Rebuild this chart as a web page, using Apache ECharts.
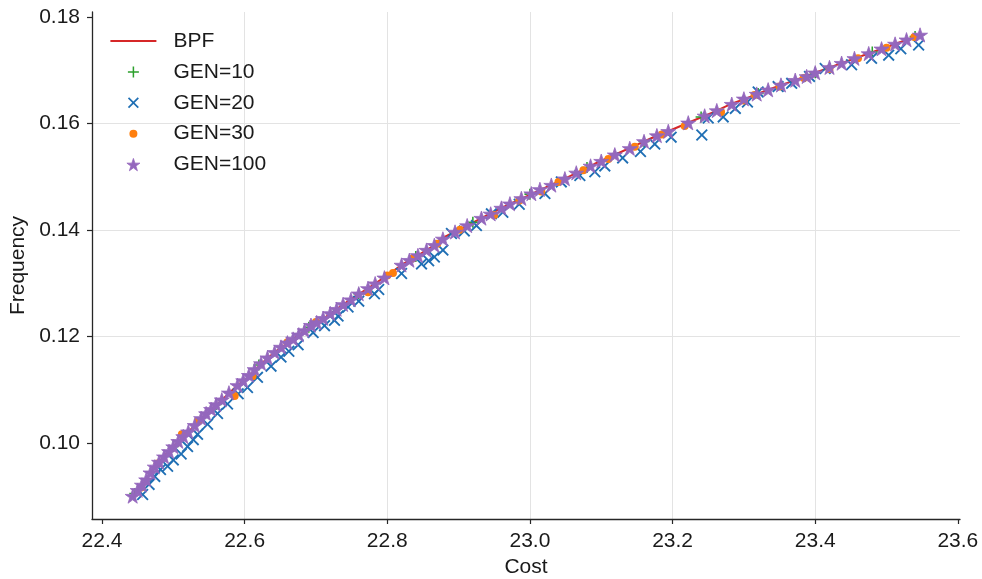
<!DOCTYPE html>
<html>
<head>
<meta charset="utf-8">
<script src="https://cdn.jsdelivr.net/npm/echarts@6/dist/echarts.min.js"></script>
<style>
html,body{margin:0;padding:0;background:#fff;}
#chart{width:982px;height:579px;}
</style>
</head>
<body>
<div id="chart"></div>
<script>
// ---- Data ----
var bpfCost = [22.443,22.459,22.473,22.490,22.504,22.520,22.539,22.553,22.567,22.590,22.604,22.623,22.642,22.665,22.684,22.707,22.726,22.749,22.773,22.796,22.820,22.843,22.866,22.876,22.908,22.932,22.960,23.002,23.026,23.049,23.072,23.091,23.119,23.152,23.170,23.194,23.222,23.259,23.283,23.306,23.334,23.372,23.400,23.437,23.475,23.512,23.547];
var bpfFreq = [0.0900,0.0925,0.0954,0.0979,0.0998,0.1019,0.1045,0.1062,0.1079,0.1108,0.1122,0.1148,0.1170,0.1192,0.1210,0.1230,0.1248,0.1270,0.1290,0.1311,0.1334,0.1352,0.1371,0.1384,0.1405,0.1422,0.1441,0.1467,0.1482,0.1496,0.1511,0.1524,0.1541,0.1561,0.1572,0.1585,0.1601,0.1622,0.1637,0.1648,0.1663,0.1681,0.1695,0.1713,0.1731,0.1749,0.1766];

var gen10Cost = [22.446,22.500,22.560,22.620,22.690,22.760,22.840,22.920,23.000,23.080,23.160,23.240,23.320,23.400,23.480,23.540];
var gen10Freq = [0.0905,0.0993,0.1072,0.1146,0.1217,0.1280,0.1350,0.1414,0.1467,0.1517,0.1566,0.1612,0.1656,0.1695,0.1734,0.1763];

var gen20Cost = [22.457,22.466,22.474,22.482,22.492,22.500,22.511,22.520,22.528,22.534,22.548,22.562,22.576,22.591,22.604,22.618,22.637,22.651,22.662,22.675,22.696,22.712,22.726,22.731,22.745,22.760,22.782,22.788,22.820,22.848,22.858,22.866,22.878,22.890,22.908,22.925,22.946,22.962,22.985,23.021,23.044,23.070,23.091,23.105,23.130,23.155,23.175,23.198,23.241,23.250,23.271,23.288,23.305,23.320,23.348,23.367,23.392,23.414,23.451,23.479,23.503,23.520,23.545];
var gen20Freq = [0.0903,0.0922,0.0937,0.0950,0.0956,0.0968,0.0979,0.0993,0.1006,0.1016,0.1035,0.1055,0.1073,0.1092,0.1104,0.1123,0.1144,0.1161,0.1172,0.1184,0.1207,0.1220,0.1230,0.1238,0.1255,0.1266,0.1280,0.1288,0.1318,0.1336,0.1342,0.1349,0.1362,0.1393,0.1398,0.1408,0.1430,0.1433,0.1448,0.1468,0.1490,0.1502,0.1509,0.1520,0.1535,0.1547,0.1561,0.1574,0.1578,0.1610,0.1612,0.1628,0.1640,0.1659,0.1669,0.1675,0.1688,0.1703,0.1710,0.1722,0.1728,0.1740,0.1747];

var gen30Cost = [22.455,22.478,22.512,22.535,22.586,22.611,22.660,22.700,22.773,22.800,22.808,22.835,22.870,22.902,22.950,22.985,23.016,23.040,23.075,23.110,23.147,23.185,23.217,23.268,23.300,23.315,23.350,23.384,23.420,23.460,23.500,23.539];
var gen30Freq = [0.0916,0.0961,0.1016,0.1041,0.1088,0.1125,0.1189,0.1227,0.1283,0.1314,0.1319,0.1346,0.1374,0.1400,0.1428,0.1455,0.1472,0.1490,0.1512,0.1533,0.1556,0.1579,0.1595,0.1621,0.1643,0.1653,0.1669,0.1685,0.1702,0.1722,0.1742,0.1762];

var gen100Cost = [22.443,22.450,22.456,22.462,22.468,22.474,22.480,22.487,22.494,22.500,22.507,22.514,22.521,22.530,22.539,22.546,22.553,22.560,22.568,22.578,22.590,22.598,22.606,22.614,22.623,22.632,22.642,22.651,22.660,22.668,22.676,22.684,22.693,22.701,22.710,22.720,22.729,22.738,22.749,22.760,22.773,22.783,22.796,22.820,22.831,22.843,22.855,22.866,22.878,22.895,22.912,22.932,22.945,22.960,22.972,22.988,23.002,23.014,23.030,23.049,23.065,23.085,23.100,23.119,23.140,23.160,23.178,23.194,23.222,23.245,23.262,23.283,23.300,23.318,23.334,23.352,23.372,23.388,23.400,23.420,23.437,23.455,23.475,23.493,23.512,23.528,23.547];
var gen100Freq = [0.0900,0.0911,0.0921,0.0931,0.0944,0.0955,0.0964,0.0974,0.0984,0.0993,0.1003,0.1012,0.1021,0.1033,0.1046,0.1055,0.1063,0.1072,0.1081,0.1094,0.1108,0.1117,0.1127,0.1138,0.1149,0.1160,0.1170,0.1180,0.1188,0.1195,0.1203,0.1211,0.1221,0.1226,0.1234,0.1243,0.1251,0.1260,0.1269,0.1280,0.1290,0.1299,0.1310,0.1334,0.1343,0.1352,0.1362,0.1371,0.1383,0.1396,0.1408,0.1422,0.1430,0.1441,0.1449,0.1459,0.1468,0.1476,0.1484,0.1496,0.1507,0.1520,0.1529,0.1541,0.1553,0.1566,0.1577,0.1585,0.1601,0.1614,0.1624,0.1636,0.1646,0.1655,0.1663,0.1672,0.1681,0.1688,0.1695,0.1705,0.1713,0.1722,0.1731,0.1740,0.1749,0.1757,0.1766];

var xTicks = [22.4,22.6,22.8,23.0,23.2,23.4,23.6];
var yTicks = [0.10,0.12,0.14,0.16,0.18];
var seriesNames = ['BPF','GEN=10','GEN=20','GEN=30','GEN=100'];

function pairs(xs, ys){ var out=[]; for(var i=0;i<xs.length;i++) out.push([xs[i], ys[i]]); return out; }

var FONT = "'Liberation Sans', Arial, Helvetica, sans-serif";
// marker shapes for the plot
var PLUS = 'path://M4.3,0 L5.7,0 L5.7,4.3 L10,4.3 L10,5.7 L5.7,5.7 L5.7,10 L4.3,10 L4.3,5.7 L0,5.7 L0,4.3 L4.3,4.3 Z';
var XMARK = 'path://M0,1.1 L1.1,0 L5,3.9 L8.9,0 L10,1.1 L6.1,5 L10,8.9 L8.9,10 L5,6.1 L1.1,10 L0,8.9 L3.9,5 Z';
var STAR = 'path://M10,0 L12.245,6.910 L19.511,6.910 L13.633,11.180 L15.878,18.090 L10,13.82 L4.122,18.090 L6.367,11.180 L0.489,6.910 L7.755,6.910 Z';
// legend icons laid out in a 46x14 box (corner points fix the box)
var BOX = 'M0,0 L0,0 Z M46,14 L46,14 Z ';
var L_LINE = 'path://' + BOX + 'M0,6 L46,6 L46,8 L0,8 Z';
var L_PLUS = 'path://' + BOX + 'M22.25,1.5 L23.75,1.5 L23.75,6.25 L28.5,6.25 L28.5,7.75 L23.75,7.75 L23.75,12.5 L22.25,12.5 L22.25,7.75 L17.5,7.75 L17.5,6.25 L22.25,6.25 Z';
var L_X = 'path://' + BOX + 'M17.5,2.7 L18.7,1.5 L23,5.8 L27.3,1.5 L28.5,2.7 L24.2,7 L28.5,11.3 L27.3,12.5 L23,8.2 L18.7,12.5 L17.5,11.3 L21.8,7 Z';
var L_DOT = 'path://' + BOX + 'M19,7 A4,4 0 1,0 27,7 A4,4 0 1,0 19,7 Z';
var L_STAR = 'path://' + BOX + 'M23,0.818 L24.534,5.541 L29.501,5.541 L25.483,8.459 L27.018,13.182 L23,10.264 L18.982,13.182 L20.517,8.459 L16.499,5.541 L21.466,5.541 Z';

var C_RED = '#d62728', C_GREEN = '#2ca02c', C_BLUE = '#1f6fb4', C_ORANGE = '#ff7f0e', C_PURPLE = '#9467bd';
var AX = '#262626';

var chart = echarts.init(document.getElementById('chart'), null, {renderer:'canvas'});
chart.setOption({
  animation: false,
  backgroundColor: '#ffffff',
  textStyle: {fontFamily: FONT},
  grid: {left: 92, right: 22, top: 12, bottom: 60, containLabel: false, outerBoundsMode: 'none'},
  legend: {
    orient: 'vertical', left: 110, top: 30.5, padding: 0,
    itemWidth: 46, itemHeight: 14, itemGap: 9.9, symbolKeepAspect: false,
    textStyle: {fontFamily: FONT, fontSize: 21, color: '#1a1a1a', lineHeight: 21, padding: [0,0,0,12]},
    data: [
      {name: seriesNames[0], icon: L_LINE, itemStyle: {color: C_RED, borderWidth: 0}},
      {name: seriesNames[1], icon: L_PLUS, itemStyle: {color: C_GREEN, borderWidth: 0}},
      {name: seriesNames[2], icon: L_X, itemStyle: {color: C_BLUE, borderWidth: 0}},
      {name: seriesNames[3], icon: L_DOT, itemStyle: {color: C_ORANGE, borderWidth: 0}},
      {name: seriesNames[4], icon: L_STAR, itemStyle: {color: C_PURPLE, borderColor: C_PURPLE, borderWidth: 0.8}}
    ]
  },
  xAxis: {
    type: 'value',
    min: 22.386, max: 23.603,
    name: 'Cost', nameLocation: 'middle', nameGap: 38,
    nameTextStyle: {fontFamily: FONT, fontSize: 21, color: '#1a1a1a'},
    axisLine: {show: true, onZero: false, lineStyle: {color: AX, width: 1.3}},
    axisTick: {show: true, length: 5, inside: false, customValues: xTicks, lineStyle: {color: AX, width: 1.2}},
    axisLabel: {customValues: xTicks, margin: 12, fontFamily: FONT, fontSize: 21, color: '#1a1a1a',
      formatter: function(v){ return v.toFixed(1); }},
    splitLine: {show: true, showMinLine: false, showMaxLine: false, lineStyle: {color: '#e3e3e3', width: 1}}
  },
  yAxis: {
    type: 'value',
    min: 0.0857, max: 0.1809,
    name: 'Frequency', nameLocation: 'middle', nameGap: 55, nameRotate: 90,
    nameTextStyle: {fontFamily: FONT, fontSize: 21, color: '#1a1a1a'},
    axisLine: {show: true, onZero: false, lineStyle: {color: AX, width: 1.3}},
    axisTick: {show: true, length: 5, inside: false, customValues: yTicks, lineStyle: {color: AX, width: 1.2}},
    axisLabel: {customValues: yTicks, margin: 12, fontFamily: FONT, fontSize: 21, color: '#1a1a1a',
      formatter: function(v){ return v.toFixed(2); }},
    splitLine: {show: true, showMinLine: false, showMaxLine: false, lineStyle: {color: '#e3e3e3', width: 1}}
  },
  series: [
    {name: seriesNames[0], type: 'line', data: pairs(bpfCost, bpfFreq), showSymbol: false, symbol: 'none',
      lineStyle: {color: C_RED, width: 2}, itemStyle: {color: C_RED}, z: 1, smooth: false},
    {name: seriesNames[1], type: 'scatter', data: pairs(gen10Cost, gen10Freq), symbol: PLUS, symbolSize: 11,
      symbolKeepAspect: true, itemStyle: {color: C_GREEN, opacity: 1}, z: 2},
    {name: seriesNames[2], type: 'scatter', data: pairs(gen20Cost, gen20Freq), symbol: XMARK, symbolSize: 12,
      symbolKeepAspect: true, itemStyle: {color: C_BLUE, opacity: 1}, z: 3},
    {name: seriesNames[3], type: 'scatter', data: pairs(gen30Cost, gen30Freq), symbol: 'circle', symbolSize: 8,
      itemStyle: {color: C_ORANGE, opacity: 1}, z: 4},
    {name: seriesNames[4], type: 'scatter', data: pairs(gen100Cost, gen100Freq), symbol: STAR, symbolSize: 15,
      symbolKeepAspect: true, itemStyle: {color: C_PURPLE, borderColor: C_PURPLE, borderWidth: 0.8, opacity: 1}, z: 5}
  ]
});
</script>
</body>
</html>
